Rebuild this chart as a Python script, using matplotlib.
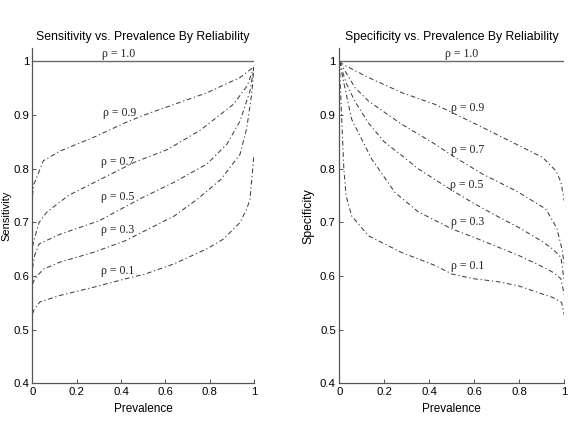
import matplotlib
matplotlib.use("Agg")
import matplotlib.pyplot as plt

# ---------------- data ----------------
reliabilities = ["1.0", "0.9", "0.7", "0.5", "0.3", "0.1"]

# Sensitivity vs prevalence
sens_x_09 = [0.0, 0.005, 0.019, 0.049, 0.124, 0.273, 0.42, 0.51, 0.64, 0.79, 0.937, 1.0]
sens_y_09 = [0.75, 0.77, 0.784, 0.815, 0.833, 0.858, 0.886, 0.901, 0.92, 0.942, 0.97, 0.99]
sens_x_07 = [0.0, 0.01, 0.03, 0.064, 0.161, 0.31, 0.46, 0.61, 0.758, 0.907, 0.97, 1.0]
sens_y_07 = [0.655, 0.672, 0.70, 0.719, 0.75, 0.781, 0.812, 0.836, 0.872, 0.92, 0.955, 0.99]
sens_x_05 = [0.0, 0.01, 0.03, 0.124, 0.30, 0.49, 0.64, 0.788, 0.878, 0.937, 0.982, 1.0]
sens_y_05 = [0.615, 0.639, 0.66, 0.678, 0.703, 0.745, 0.775, 0.809, 0.846, 0.889, 0.945, 0.99]
sens_x_03 = [0.0, 0.01, 0.049, 0.124, 0.273, 0.42, 0.51, 0.64, 0.743, 0.85, 0.937, 0.967, 0.99, 1.0]
sens_y_03 = [0.585, 0.595, 0.613, 0.626, 0.644, 0.666, 0.685, 0.712, 0.743, 0.78, 0.827, 0.875, 0.94, 0.99]
sens_x_01 = [0.0, 0.01, 0.034, 0.124, 0.273, 0.42, 0.51, 0.64, 0.788, 0.862, 0.937, 0.967, 0.982, 1.0]
sens_y_01 = [0.53, 0.54, 0.552, 0.564, 0.579, 0.595, 0.604, 0.623, 0.651, 0.669, 0.70, 0.725, 0.743, 0.827]

# Specificity vs prevalence
spec_x_09 = [0.0, 0.018, 0.13, 0.277, 0.425, 0.5, 0.637, 0.785, 0.904, 0.963, 0.985, 1.0]
spec_y_09 = [1.0, 0.994, 0.970, 0.942, 0.920, 0.905, 0.877, 0.846, 0.821, 0.796, 0.775, 0.74]
spec_x_07 = [0.0, 0.07, 0.13, 0.277, 0.425, 0.5, 0.637, 0.785, 0.848, 0.918, 0.966, 0.99, 1.0]
spec_y_07 = [1.0, 0.951, 0.926, 0.883, 0.846, 0.825, 0.79, 0.759, 0.743, 0.725, 0.69, 0.65, 0.62]
spec_x_05 = [0.0, 0.03, 0.07, 0.13, 0.2, 0.277, 0.35, 0.425, 0.5, 0.6, 0.7, 0.8, 0.9, 0.95, 0.985, 1.0]
spec_y_05 = [1.0, 0.96, 0.925, 0.885, 0.85, 0.825, 0.80, 0.78, 0.76, 0.735, 0.712, 0.69, 0.665, 0.65, 0.635, 0.59]
spec_x_03 = [0.0, 0.025, 0.055, 0.144, 0.247, 0.35, 0.5, 0.6, 0.7, 0.8, 0.9, 0.95, 0.985, 1.0]
spec_y_03 = [1.0, 0.95, 0.892, 0.818, 0.756, 0.72, 0.688, 0.672, 0.655, 0.638, 0.618, 0.607, 0.595, 0.565]
spec_x_01 = [0.0, 0.005, 0.01, 0.02, 0.03, 0.055, 0.13, 0.277, 0.425, 0.5, 0.6, 0.7, 0.796, 0.9, 0.95, 0.988, 1.0]
spec_y_01 = [1.0, 0.95, 0.9, 0.80, 0.75, 0.712, 0.675, 0.644, 0.62, 0.604, 0.595, 0.59, 0.582, 0.567, 0.56, 0.551, 0.527]

x_ticks = [0, 0.2, 0.4, 0.6, 0.8, 1]
x_tick_labels = ["0", "0.2", "0.4", "0.6", "0.8", "1"]
y_ticks = [0.4, 0.5, 0.6, 0.7, 0.8, 0.9, 1.0]
y_tick_labels = ["0.4", "0.5", "0.6", "0.7", "0.8", "0.9", "1"]

# label positions (data coords) for rho annotations
sens_label_x = [0.315, 0.318, 0.31, 0.31, 0.31, 0.31]
sens_label_y = [1.003, 0.903, 0.812, 0.748, 0.686, 0.609]
spec_label_x = [0.47, 0.495, 0.495, 0.49, 0.495, 0.495]
spec_label_y = [1.003, 0.913, 0.835, 0.770, 0.700, 0.619]

# ---------------- drawing ----------------
fig = plt.figure(figsize=(5.7, 4.32), dpi=100)
ax1 = fig.add_axes([0.0570, 0.1123, 0.3886, 0.7766])
ax2 = fig.add_axes([0.5953, 0.1123, 0.3947, 0.7766])

line_color = "#404040"
dashdot = (0, (4.5, 2.6, 1.2, 2.6))
sans = "Liberation Sans"
serif = "Liberation Serif"

def style(ax, title, ylabel, ylab_x, ylab_size):
    ax.set_xlim(0, 1)
    ax.set_ylim(0.4, 1.025)
    for s in ["top", "right"]:
        ax.spines[s].set_visible(False)
    for s in ["left", "bottom"]:
        ax.spines[s].set_color("#555555")
        ax.spines[s].set_linewidth(0.9)
    ax.set_xticks(x_ticks)
    ax.set_xticklabels(x_tick_labels, fontfamily=sans, fontsize=8.2)
    ax.set_yticks(y_ticks)
    ax.set_yticklabels(y_tick_labels, fontfamily=sans, fontsize=8.2)
    ax.tick_params(direction="in", length=3, width=0.7, color="#555555", pad=2.5)
    ax.set_title(title, fontfamily=sans, fontsize=8.8, pad=6)
    ax.set_xlabel("Prevalence", fontfamily=sans, fontsize=8.5, labelpad=4)
    ax.set_ylabel(ylabel, fontfamily=sans, fontsize=ylab_size, va="center")
    ax.yaxis.set_label_coords(ylab_x, 0.5)

sens_series = [(sens_x_09, sens_y_09), (sens_x_07, sens_y_07), (sens_x_05, sens_y_05),
               (sens_x_03, sens_y_03), (sens_x_01, sens_y_01)]
spec_series = [(spec_x_09, spec_y_09), (spec_x_07, spec_y_07), (spec_x_05, spec_y_05),
               (spec_x_03, spec_y_03), (spec_x_01, spec_y_01)]

for ax, series, lx, ly in [(ax1, sens_series, sens_label_x, sens_label_y),
                           (ax2, spec_series, spec_label_x, spec_label_y)]:
    ax.plot([0, 1], [1.0, 1.0], color="#6a6a6a", lw=1.0, solid_capstyle="butt")
    for xs, ys in series:
        ax.plot(xs, ys, color=line_color, lw=0.75, linestyle=dashdot)
    for r, x, y in zip(reliabilities, lx, ly):
        va = "bottom" if r == "1.0" else "center"
        ax.text(x, y, "\u03c1 = " + r, fontfamily=serif, fontsize=8.5,
                ha="left", va=va, color="#222222")

style(ax1, "Sensitivity vs. Prevalence By Reliability", "Sensitivity", -0.1164, 8.0)
style(ax2, "Specificity vs. Prevalence By Reliability", "Specificity", -0.139, 8.8)

fig.savefig("out.png", dpi=100)
